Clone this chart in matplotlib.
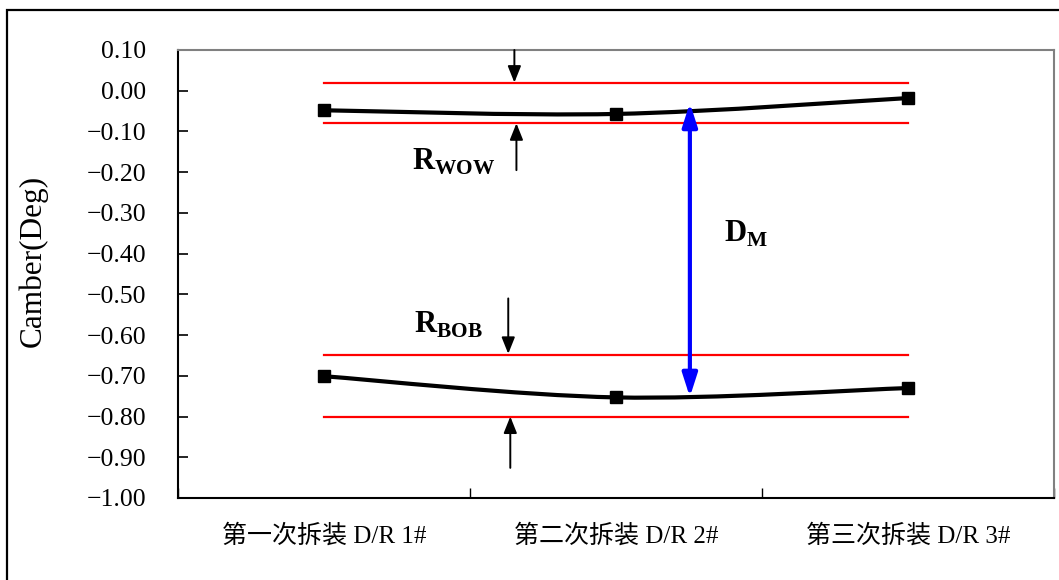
import numpy as np
import matplotlib
matplotlib.use("Agg")
import matplotlib.pyplot as plt
from matplotlib.path import Path
from matplotlib.patches import PathPatch, Rectangle

plt.rcParams['font.family'] = ['Liberation Serif', 'Noto Sans CJK SC']
plt.rcParams['mathtext.fontset'] = 'custom'
plt.rcParams['mathtext.bf'] = 'Liberation Serif:bold'
plt.rcParams['mathtext.rm'] = 'Liberation Serif'

# data
categories = ['第一次拆装 D/R 1#', '第二次拆装 D/R 2#', '第三次拆装 D/R 3#']
wow = [-0.048, -0.057, -0.018]
bob = [-0.701, -0.753, -0.730]
limits = [0.02, -0.08, -0.65, -0.80]
yticks = [0.10, 0.00, -0.10, -0.20, -0.30, -0.40, -0.50, -0.60, -0.70, -0.80, -0.90, -1.00]


def smooth_path(xs, ys):
    # excel-like smoothed line as cubic bezier segments
    pts = np.column_stack([xs, ys]).astype(float)
    ext = np.vstack([pts[0], pts, pts[-1]])
    verts = [pts[0]]
    codes = [Path.MOVETO]
    for i in range(len(pts) - 1):
        p0, p1, p2, p3 = ext[i], ext[i + 1], ext[i + 2], ext[i + 3]
        c1 = p1 + (p2 - p0) / 6
        c2 = p2 - (p3 - p1) / 6
        verts += [c1, c2, p2]
        codes += [Path.CURVE4] * 3
    return Path(verts, codes)


fig = plt.figure(figsize=(10.59, 5.8), dpi=100)
ax = fig.add_axes([178 / 1059, 1 - 498 / 580, (1054 - 178) / 1059, (498 - 50) / 580])

x = np.arange(len(categories))

for y in limits:
    ax.plot([x[0], x[-1]], [y, y], color='red', lw=1.6, zorder=2)

for series in (wow, bob):
    ax.add_patch(PathPatch(smooth_path(x, series), fill=False, edgecolor='black', lw=3, zorder=3))
    ax.plot(x, series, 's', color='black', ms=8.8, zorder=4)

# black arrows
arrow_kw = dict(arrowstyle='-|>,head_length=1.0,head_width=0.4', color='black', lw=1.4,
                shrinkA=0, shrinkB=0)
ax.annotate('', xy=(0.652, 0.02), xytext=(0.652, 0.10), arrowprops=arrow_kw)
ax.annotate('', xy=(0.659, -0.08), xytext=(0.659, -0.195), arrowprops=arrow_kw)
ax.annotate('', xy=(0.631, -0.646), xytext=(0.631, -0.51), arrowprops=arrow_kw)
ax.annotate('', xy=(0.638, -0.80), xytext=(0.638, -0.926), arrowprops=arrow_kw)

# blue double arrow
ax.annotate('', xy=(1.253, -0.03), xytext=(1.253, -0.752),
            arrowprops=dict(arrowstyle='<|-|>,head_length=1.4,head_width=0.45', color='blue',
                            lw=3, shrinkA=0, shrinkB=0))

ax.text(0.303, -0.195, r'$\mathbf{R}_{\mathbf{WOW}}$', fontsize=22, va='baseline', ha='left')
ax.text(0.308, -0.595, r'$\mathbf{R}_{\mathbf{BOB}}$', fontsize=22, va='baseline', ha='left')
ax.text(1.369, -0.372, r'$\mathbf{D}_{\mathbf{M}}$', fontsize=22, va='baseline', ha='left')

ax.set_xlim(-0.5, 2.5)
ax.set_ylim(-1.00, 0.10)

ax.set_yticks(yticks)
ax.set_yticklabels([f'{v:.2f}'.replace('-', '\u2212') for v in yticks], fontsize=18.5)
ax.tick_params(axis='y', direction='in', length=7, width=1.2, pad=23)

ax.set_xticks([-0.5, 0.5, 1.5, 2.5])
ax.set_xticklabels([])
ax.tick_params(axis='x', which='major', direction='in', length=7, width=1.0)
ax.set_xticks(x, minor=True)
ax.set_xticklabels(categories, minor=True, fontsize=18)
ax.tick_params(axis='x', which='minor', length=0, pad=19)

for side in ('left', 'bottom'):
    ax.spines[side].set_color('black')
    ax.spines[side].set_linewidth(1.5)
for side in ('top', 'right'):
    ax.spines[side].set_color('#808080')
    ax.spines[side].set_linewidth(1.5)

fig.text(33 / 1059, 0.55, 'Camber(Deg)', rotation=90, fontsize=22.5, ha='center', va='center')

# outer chart frame
fig.patches.append(Rectangle((7 / 1059, -0.1), 1.2, 1 - 10 / 580 + 0.1, transform=fig.transFigure,
                             fill=False, edgecolor='black', lw=1.6))

fig.savefig('out.png', dpi=100)
